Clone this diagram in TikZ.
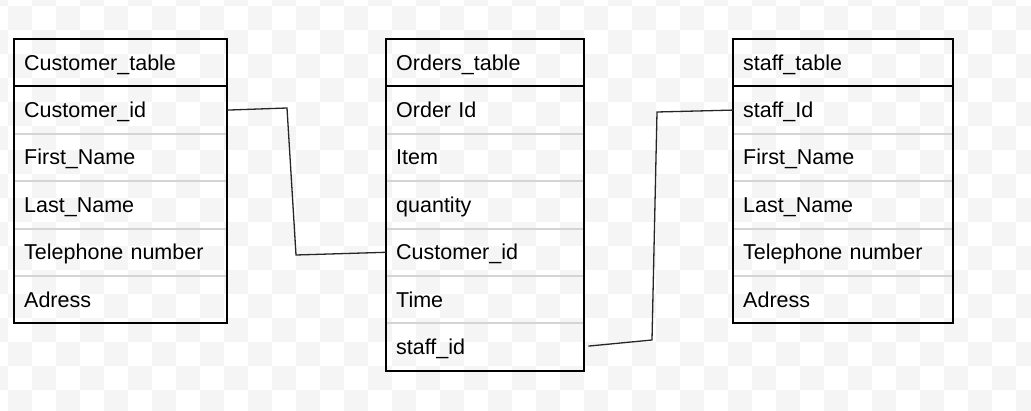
\documentclass[tikz,border=0pt]{standalone}
\usepackage{fontspec}
\setmainfont{Liberation Sans}
\usetikzlibrary{positioning, chains, scopes}

\definecolor{checker}{RGB}{245,245,245}
\definecolor{rowline}{RGB}{212,212,212}

\begin{document}
\begin{tikzpicture}[
  x=1pt, y=-1pt,
  cell/.style={
    rectangle, minimum height=47pt,
    inner xsep=10pt, inner ysep=0pt,
    text width=#1, align=left,
    text height=15pt, text depth=0pt,
    font=\fontsize{21.5}{25}\selectfont
  },
  rowsep/.style={draw=rowline, line width=2pt},
  frame/.style={draw=black, line width=2pt},
  link/.style={draw=black!85, line width=1.3pt},
  node distance=0pt
]
\useasboundingbox (0,0) rectangle (1031,411);

% transparency checkerboard behind everything
\begin{scope}
  \clip (0,0) rectangle (1031,411);
  \foreach \i in {-1,...,42}
    \foreach \j in {-1,...,16} {
      \pgfmathtruncatemacro\cellodd{\i+\j+2}
      \ifodd\cellodd\else
        \fill[checker] ({8+24*\i},{6+24*\j}) rectangle +(24,24);
      \fi
    }
\end{scope}

\begin{scope}[start chain=cust going below]
  \node [on chain, cell=193pt, at={(14,39)}, anchor=north west] (cust-head) {Customer\_table};
  \node [on chain, cell=193pt] (cust-id) {Customer\_id};
  \node [on chain, cell=193pt] (cust-first) {First\_Name};
  \node [on chain, cell=193pt] (cust-last) {Last\_Name};
  \node [on chain, cell=193pt] (cust-tel) {Telephone number};
  \node [on chain, cell=193pt] (cust-addr) {Adress};
\end{scope}

\begin{scope}[start chain=ord going below]
  \node [on chain, cell=178pt, at={(386,39)}, anchor=north west] (ord-head) {Orders\_table};
  \node [on chain, cell=178pt] (ord-id) {Order Id};
  \node [on chain, cell=178pt] (ord-item) {Item};
  \node [on chain, cell=178pt] (ord-qty) {quantity};
  \node [on chain, cell=178pt] (ord-cust) {Customer\_id};
  \node [on chain, cell=178pt] (ord-time) {Time};
  \node [on chain, cell=178pt] (ord-staff) {staff\_id};
\end{scope}

\begin{scope}[start chain=staff going below]
  \node [on chain, cell=200pt, at={(733,39)}, anchor=north west] (staff-head) {staff\_table};
  \node [on chain, cell=200pt] (staff-id) {staff\_Id};
  \node [on chain, cell=200pt] (staff-first) {First\_Name};
  \node [on chain, cell=200pt] (staff-last) {Last\_Name};
  \node [on chain, cell=200pt] (staff-tel) {Telephone number};
  \node [on chain, cell=200pt] (staff-addr) {Adress};
\end{scope}

% row separators
\foreach \r in {cust-id, cust-first, cust-last, cust-tel,
                ord-id, ord-item, ord-qty, ord-cust, ord-time,
                staff-id, staff-first, staff-last, staff-tel}
  \draw[rowsep] (\r.south west) -- (\r.south east);

% header lines and frames
\foreach \h/\l in {cust-head/cust-addr, ord-head/ord-staff, staff-head/staff-addr} {
  \draw[frame] (\h.south west) -- (\h.south east);
  \draw[frame] (\h.north west) rectangle (\l.south east);
}

% links
\coordinate (bend1) at (287,108);
\coordinate (bend2) at (296,255);
\draw[link] (cust-id.east) -- (bend1) -- (bend2) -- (ord-cust.west);

\coordinate (bend3) at (657,112);
\coordinate (bend4) at (652,340);
\coordinate (staff-end) at ([xshift=4pt, yshift=1pt]ord-staff.east);
\draw[link] (staff-id.west) -- (bend3) -- (bend4) -- (staff-end);
\end{tikzpicture}
\end{document}
